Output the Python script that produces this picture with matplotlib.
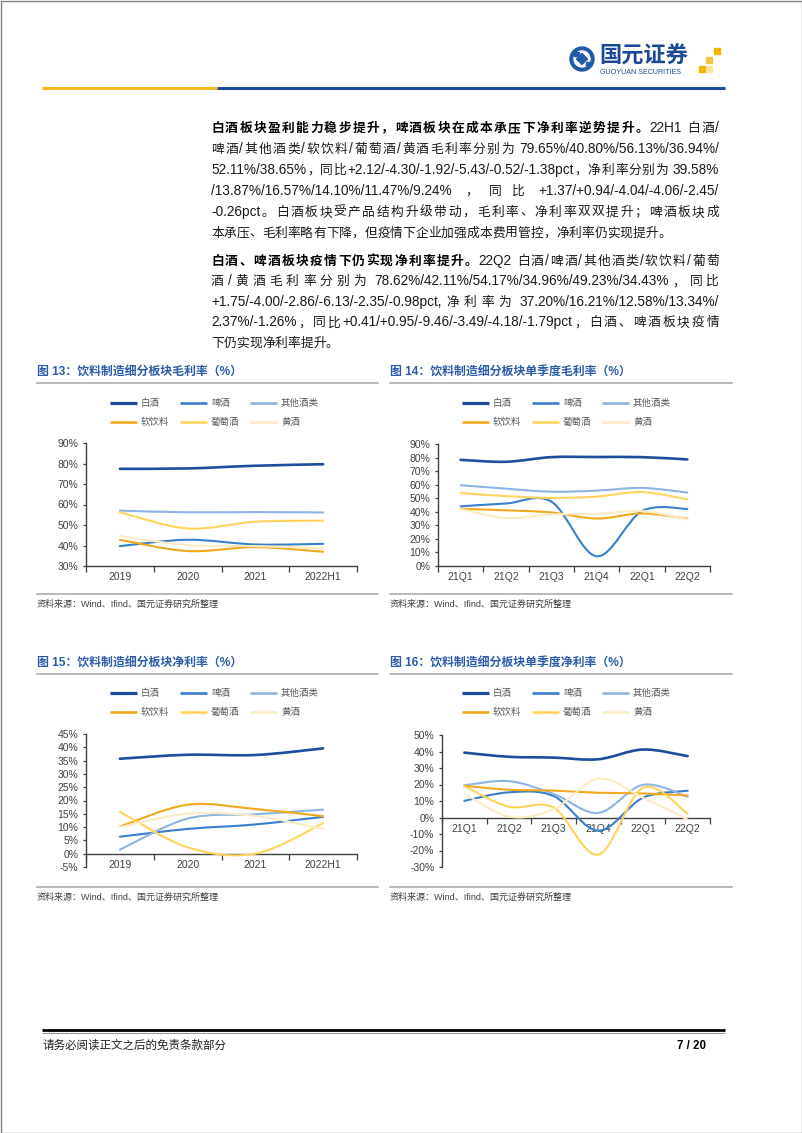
import matplotlib
matplotlib.use('Agg')
import numpy as np
import matplotlib.pyplot as plt
from matplotlib.path import Path
from matplotlib.patches import PathPatch, Rectangle, Circle, Polygon

plt.rcParams['font.family'] = ['Liberation Sans', 'Noto Sans CJK SC']

W, H = 802, 1133

# ---------------- 数据 ----------------
series_names = ['白酒', '啤酒', '其他酒类', '软饮料', '葡萄酒', '黄酒']
years = ['2019', '2020', '2021', '2022H1']
quarters = ['21Q1', '21Q2', '21Q3', '21Q4', '22Q1', '22Q2']

# 图13 毛利率（年度），顺序同 series_names
gross_annual = [
    [77.4, 77.6, 78.9, 79.65],
    [39.7, 42.8, 40.5, 40.80],
    [57.0, 56.2, 56.3, 56.13],
    [42.8, 37.3, 39.2, 36.94],
    [56.2, 48.3, 51.6, 52.11],
    [44.6, 40.2, 39.7, 38.65],
]
# 图14 单季度毛利率
gross_quarter = [
    [78.3, 76.87, 80.3, 80.4, 80.3, 78.62],
    [44.0, 46.11, 47.5, 7.2, 40.5, 42.11],
    [59.6, 57.03, 54.8, 55.6, 57.6, 54.17],
    [42.2, 41.09, 39.5, 35.0, 38.8, 34.96],
    [53.8, 51.58, 50.2, 51.2, 54.5, 49.23],
    [42.0, 35.41, 38.0, 38.5, 40.5, 34.43],
]
# 图15 净利率（年度）
net_annual = [
    [35.7, 37.2, 37.1, 39.58],
    [6.4, 9.3, 11.0, 13.87],
    [1.5, 13.2, 14.8, 16.57],
    [10.2, 18.4, 16.8, 14.10],
    [15.8, 2.4, 0.0, 11.47],
    [10.0, 15.0, 14.2, 9.24],
]
# 图16 单季度净利率
net_quarter = [
    [39.3, 36.79, 36.3, 35.3, 41.2, 37.20],
    [10.1, 15.26, 13.0, -8.0, 12.0, 16.21],
    [19.5, 22.04, 14.3, 2.8, 19.8, 12.58],
    [19.2, 16.83, 16.3, 15.0, 14.6, 13.34],
    [19.0, 6.55, 6.0, -22.5, 18.0, 2.37],
    [14.5, 0.53, 5.0, 23.5, 12.0, -1.26],
]

colors = ['#1E4D9B', '#3A7FCB', '#8EB4E3', '#F0A81C', '#FFD45C', '#FCEBC3']
line_w = [1.9, 1.5, 1.5, 1.5, 1.5, 1.5]
title_col = '#2A5CAA'
axis_col = '#404040'

fig = plt.figure(figsize=(W / 100, H / 100), dpi=100)
fig.patch.set_facecolor('white')

# 背景轴，单位为像素，y 向下
bg = fig.add_axes([0, 0, 1, 1], zorder=0)
bg.set_xlim(0, W)
bg.set_ylim(H, 0)
bg.axis('off')
renderer = fig.canvas.get_renderer()

# 页面边框
bg.add_patch(Rectangle((0.5, 0.5), W - 1, H - 1, fill=False, edgecolor='#808080', lw=1))

#%% 页眉
bg.add_patch(Circle((582, 59), 12, color='#1F5AA6'))
bg.add_patch(Circle((582, 59), 8, color='white'))
bg.add_patch(Polygon([(582, 53.5), (587.5, 59), (582, 64.5), (576.5, 59)], color='#1F5AA6'))
bg.add_patch(Rectangle((573.5, 52), 5, 4, color='#1F5AA6'))
bg.add_patch(Rectangle((585.5, 62), 5, 4, color='#1F5AA6'))
bg.text(599, 57, '国元证券', fontsize=16, weight='bold', color='#1A4A94', va='center')
bg.text(600, 72.5, 'GUOYUAN SECURITIES', fontsize=5.1, color='#1A4A94', va='center')
for sx, sy, sc in [(714, 48, '#F5B400'), (706, 57, '#F7C640'), (699, 66, '#F5B400'), (706, 66, '#FBE3A0')]:
    bg.add_patch(Rectangle((sx, sy), 6, 6, color=sc))
bg.plot([42, 217], [88, 88], color='#F2B81F', lw=2.2, solid_capstyle='butt')
bg.plot([217, 725], [88, 88], color='#1B4E9C', lw=2.2, solid_capstyle='butt')

#%% 正文（两端对齐）
FS_L = 9.8   # 西文字号
FS_C = 9.2   # 中文字号
X0, X1 = 211, 719


def is_cjk(s):
    return len(s) == 1 and ord(s) >= 0x2E80


def tokenize(parts):
    toks = []
    space_next = False
    for text, weight in parts:
        buf = ''
        for ch in text:
            if ch == ' ':
                if buf:
                    toks.append((buf, weight, space_next))
                    buf = ''
                    space_next = False
                space_next = True
            elif ord(ch) >= 0x2E80:
                if buf:
                    toks.append((buf, weight, space_next))
                    buf = ''
                    space_next = False
                toks.append((ch, weight, space_next))
                space_next = False
            else:
                buf += ch
        if buf:
            toks.append((buf, weight, space_next))
            space_next = False
    return toks


def text_width(s, weight):
    if is_cjk(s):
        return FS_C * 100 / 72
    t = bg.text(0, 0, s, fontsize=FS_L, weight=weight)
    w = t.get_window_extent(renderer).width
    t.remove()
    return w


def draw_line(parts, y, justify=True):
    toks = tokenize(parts)
    widths = [text_width(t, w) for t, w, _ in toks]
    gaps = [FS_L * 100 / 72 * 0.28 if sp else 0 for _, _, sp in toks[1:]]
    natural = sum(widths) + sum(gaps)
    extra = (X1 - X0 - natural) / (len(toks) - 1) if justify else 0
    x = X0
    for i, (t, weight, sp) in enumerate(toks):
        if i > 0:
            x += gaps[i - 1] + extra
        bg.text(x, y + 4.6, t, fontsize=FS_C if is_cjk(t) else FS_L, weight=weight,
                va='baseline', ha='left',
                color='#000000' if weight == 'bold' else '#1A1A1A')
        x += widths[i]


N, B = 'normal', 'bold'
para1 = [
    [('白酒板块盈利能力稳步提升，啤酒板块在成本承压下净利率逆势提升。', B), ('22H1 白酒/', N)],
    [('啤酒/其他酒类/软饮料/葡萄酒/黄酒毛利率分别为 79.65%/40.80%/56.13%/36.94%/', N)],
    [('52.11%/38.65%，同比+2.12/-4.30/-1.92/-5.43/-0.52/-1.38pct，净利率分别为 39.58%', N)],
    [('/13.87%/16.57%/14.10%/11.47%/9.24% ，同比 +1.37/+0.94/-4.04/-4.06/-2.45/', N)],
    [('-0.26pct。白酒板块受产品结构升级带动，毛利率、净利率双双提升；啤酒板块成', N)],
    [('本承压、毛利率略有下降，但疫情下企业加强成本费用管控，净利率仍实现提升。', N)],
]
para2 = [
    [('白酒、啤酒板块疫情下仍实现净利率提升。', B), ('22Q2 白酒/啤酒/其他酒类/软饮料/葡萄', N)],
    [('酒/黄酒毛利率分别为 78.62%/42.11%/54.17%/34.96%/49.23%/34.43%，同比', N)],
    [('+1.75/-4.00/-2.86/-6.13/-2.35/-0.98pct,净利率为 37.20%/16.21%/12.58%/13.34%/', N)],
    [('2.37%/-1.26%，同比+0.41/+0.95/-9.46/-3.49/-4.18/-1.79pct，白酒、啤酒板块疫情', N)],
    [('下仍实现净利率提升。', N)],
]
for k, parts in enumerate(para1):
    draw_line(parts, 127 + 21 * k, justify=k < len(para1) - 1)
for k, parts in enumerate(para2):
    draw_line(parts, 260 + 20.6 * k, justify=k < len(para2) - 1)


#%% 图表
def smooth_path(xs, ys):
    # Excel 平滑线：三次贝塞尔，控制点取相邻点差的 1/6
    pts = np.column_stack([xs, ys]).astype(float)
    n = len(pts)
    verts = [pts[0]]
    codes = [Path.MOVETO]
    for i in range(n - 1):
        p0 = pts[max(i - 1, 0)]
        p1 = pts[i]
        p2 = pts[i + 1]
        p3 = pts[min(i + 2, n - 1)]
        verts += [p1 + (p2 - p0) / 6, p2 - (p3 - p1) / 6, p2]
        codes += [Path.CURVE4] * 3
    return Path(verts, codes)


def px_axes(x0, y0, x1, y1):
    ax = fig.add_axes([x0 / W, 1 - y1 / H, (x1 - x0) / W, (y1 - y0) / H], zorder=1)
    ax.set_facecolor('none')
    return ax


def draw_chart(ax, cats, data, ylo, yhi, ystep):
    n = len(cats)
    xs = np.arange(n) + 0.5
    for vals, c, lw in zip(data, colors, line_w):
        ax.add_patch(PathPatch(smooth_path(xs, vals), fill=False, edgecolor=c, lw=lw,
                               joinstyle='round', capstyle='round', zorder=3))
    ax.set_xlim(0, n)
    ax.set_ylim(ylo, yhi)
    for s in ['top', 'right']:
        ax.spines[s].set_visible(False)
    for s in ['left', 'bottom']:
        ax.spines[s].set_color(axis_col)
        ax.spines[s].set_linewidth(1.0)
    ax.spines['bottom'].set_position(('data', max(ylo, 0)))
    ax.set_xticks(range(n + 1))
    ax.set_xticklabels([])
    ax.set_xticks(xs, minor=True)
    ax.set_xticklabels(cats, minor=True)
    ax.tick_params(axis='x', which='major', direction='out', length=4, width=0.9, color=axis_col)
    ax.tick_params(axis='x', which='minor', length=0, labelsize=7.5, labelcolor=axis_col, pad=4.5)
    yt = np.arange(ylo, yhi + ystep / 2, ystep)
    ax.set_yticks(yt)
    ax.set_yticklabels([f'{v:g}%' for v in yt])
    ax.tick_params(axis='y', direction='out', length=2.5, width=0.9, color=axis_col,
                   labelsize=7.5, labelcolor=axis_col, pad=3)


def draw_frame(x, x_end, title, y_title, y_src, leg_x, leg_y):
    bg.text(x, y_title, title, fontsize=8.6, weight='bold', color=title_col, va='center')
    bg.plot([x, x_end], [y_title + 11, y_title + 11], color='#A6A6A6', lw=1.1)
    bg.plot([x, x_end], [y_src - 10, y_src - 10], color='#A6A6A6', lw=1.1)
    bg.text(x, y_src, '资料来源：Wind、Ifind、国元证券研究所整理', fontsize=6.5,
            color='#404040', va='center')
    for i, name in enumerate(series_names):
        r, c = divmod(i, 3)
        lx = leg_x + c * 70
        ly = leg_y + r * 19
        bg.plot([lx, lx + 27], [ly, ly], color=colors[i], lw=line_w[i] + 0.4, solid_capstyle='butt')
        bg.text(lx + 31, ly, name, fontsize=6.8, color='#595959', va='center')


draw_frame(37, 378, '图 13：饮料制造细分板块毛利率（%）', 372, 604, 110, 403)
draw_chart(px_axes(86, 443, 357, 566), years, gross_annual, 30, 90, 10)

draw_frame(390, 732, '图 14：饮料制造细分板块单季度毛利率（%）', 372, 604, 462, 403)
draw_chart(px_axes(438, 444, 710, 566), quarters, gross_quarter, 0, 90, 10)

draw_frame(37, 378, '图 15：饮料制造细分板块净利率（%）', 663, 897, 110, 693)
draw_chart(px_axes(86, 734, 357, 867), years, net_annual, -5, 45, 5)

draw_frame(390, 732, '图 16：饮料制造细分板块单季度净利率（%）', 663, 897, 462, 693)
draw_chart(px_axes(442, 735, 710, 867), quarters, net_quarter, -30, 50, 10)

#%% 页脚
bg.plot([42, 725], [1030, 1030], color='#000000', lw=2.0, solid_capstyle='butt')
bg.plot([42, 725], [1032.5, 1032.5], color='#9A9A9A', lw=0.8, solid_capstyle='butt')
bg.text(42, 1046, '请务必阅读正文之后的免责条款部分', fontsize=8.3, color='#222222', va='center')
bg.text(706, 1046, '7 / 20', fontsize=8.3, weight='bold', color='#000000', ha='right', va='center')

fig.savefig('out.png', dpi=100)
